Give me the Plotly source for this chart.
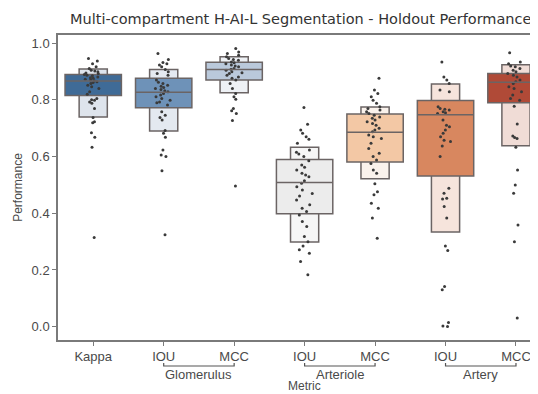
import plotly.graph_objects as go

# ---------------- data ----------------
metrics = ["Kappa", "IOU", "MCC", "IOU", "MCC", "IOU", "MCC"]
groups = ["Glomerulus", "Arteriole", "Artery"]

medians = [0.867, 0.827, 0.907, 0.509, 0.686, 0.748, 0.862]
q1 = [0.816, 0.772, 0.870, 0.398, 0.581, 0.532, 0.790]
q3 = [0.890, 0.876, 0.933, 0.590, 0.750, 0.798, 0.893]
lv_lo = [0.740, 0.690, 0.825, 0.299, 0.522, 0.334, 0.638]
lv_hi = [0.909, 0.907, 0.952, 0.633, 0.775, 0.856, 0.924]

kappa_pts = [0.946, 0.937, 0.928, 0.917, 0.911, 0.905, 0.902, 0.899, 0.895, 0.893,
             0.890, 0.887, 0.885, 0.881, 0.878, 0.876, 0.873, 0.870, 0.868, 0.864,
             0.861, 0.858, 0.852, 0.846, 0.840, 0.829, 0.820, 0.805, 0.801, 0.799,
             0.793, 0.788, 0.770, 0.738, 0.723, 0.719, 0.684, 0.668, 0.633, 0.315]
glom_iou_pts = [0.964, 0.943, 0.932, 0.928, 0.923, 0.917, 0.907, 0.899, 0.893, 0.887,
                0.870, 0.862, 0.858, 0.852, 0.848, 0.844, 0.840, 0.837, 0.832, 0.829,
                0.823, 0.817, 0.811, 0.805, 0.799, 0.793, 0.790, 0.782, 0.758, 0.746,
                0.738, 0.729, 0.692, 0.682, 0.668, 0.623, 0.606, 0.600, 0.550, 0.324]
glom_mcc_pts = [0.981, 0.969, 0.964, 0.958, 0.952, 0.946, 0.943, 0.940, 0.934, 0.931,
                0.928, 0.923, 0.920, 0.917, 0.911, 0.908, 0.905, 0.899, 0.896, 0.893,
                0.887, 0.881, 0.876, 0.870, 0.858, 0.840, 0.823, 0.811, 0.802, 0.770,
                0.762, 0.752, 0.727, 0.496]
arteriole_iou_pts = [0.773, 0.714, 0.694, 0.682, 0.670, 0.661, 0.647, 0.623, 0.615, 0.609,
                     0.600, 0.585, 0.570, 0.562, 0.553, 0.541, 0.535, 0.529, 0.515, 0.506,
                     0.494, 0.482, 0.470, 0.461, 0.447, 0.430, 0.418, 0.406, 0.394, 0.371,
                     0.353, 0.318, 0.300, 0.285, 0.271, 0.259, 0.230, 0.183]
arteriole_mcc_pts = [0.876, 0.835, 0.823, 0.811, 0.799, 0.788, 0.776, 0.770, 0.764, 0.758,
                     0.752, 0.746, 0.740, 0.735, 0.729, 0.723, 0.717, 0.711, 0.700, 0.694,
                     0.688, 0.676, 0.670, 0.664, 0.647, 0.629, 0.612, 0.600, 0.588, 0.576,
                     0.553, 0.541, 0.504, 0.476, 0.465, 0.435, 0.418, 0.383, 0.312]
artery_iou_pts = [0.934, 0.881, 0.870, 0.858, 0.835, 0.829, 0.776, 0.770, 0.767, 0.764,
                  0.758, 0.755, 0.752, 0.729, 0.711, 0.705, 0.694, 0.682, 0.670, 0.658,
                  0.653, 0.637, 0.600, 0.488, 0.471, 0.453, 0.450, 0.424, 0.383, 0.285,
                  0.269, 0.142, 0.130, 0.015, 0.002, 0.001]
artery_mcc_pts = [0.966, 0.934, 0.928, 0.920, 0.917, 0.911, 0.905, 0.899, 0.893, 0.887,
                  0.881, 0.870, 0.864, 0.858, 0.846, 0.840, 0.829, 0.817, 0.805, 0.799,
                  0.778, 0.715, 0.673, 0.667, 0.664, 0.633, 0.553, 0.500, 0.471, 0.359,
                  0.300, 0.031]
points = [kappa_pts, glom_iou_pts, glom_mcc_pts, arteriole_iou_pts,
          arteriole_mcc_pts, artery_iou_pts, artery_mcc_pts]

# ---------------- styles ----------------
dark_colors = ["#3f6b97", "#6e92b8", "#bac9db", "#ececec", "#f3c8a5", "#d8875f", "#b04a37"]
light_colors = ["#dee4ec", "#e4e9f0", "#eef1f5", "#f6f6f6", "#faf2ec", "#f6e4dc", "#f0dcd6"]
edge = "#6b6464"
frame = "#7a7a7a"
txt = "#4a4a4a"
FONT = "Liberation Sans, Arial, sans-serif"
TITLE_FONT = "DejaVu Sans, sans-serif"

pos = list(range(len(metrics)))
W_IN, W_OUT = 0.80, 0.40

# page body has an 8px margin; figure is laid out so that the visible window matches
W, H = 538, 394
ML, MT, MB = 50, 27, 62
PH = H - MT - MB  # plot height in px

fig = go.Figure()

# outer letter-value boxes
fig.add_trace(go.Bar(
    x=pos, y=[h - l for h, l in zip(lv_hi, lv_lo)], base=lv_lo, width=W_OUT,
    marker=dict(color=light_colors, line=dict(color=edge, width=1.5)),
    hoverinfo="skip", showlegend=False))
# inner (IQR) boxes
fig.add_trace(go.Bar(
    x=pos, y=[h - l for h, l in zip(q3, q1)], base=q1, width=W_IN,
    marker=dict(color=dark_colors, line=dict(color=edge, width=1.5)),
    hoverinfo="skip", showlegend=False))

# median lines
mx, my = [], []
for i, m in zip(pos, medians):
    mx += [i - W_IN / 2, i + W_IN / 2, None]
    my += [m, m, None]
fig.add_trace(go.Scatter(x=mx, y=my, mode="lines", line=dict(color=edge, width=1.5),
                         hoverinfo="skip", showlegend=False))

# jittered points
for i, pts in zip(pos, points):
    fig.add_trace(go.Box(
        x=[i] * len(pts), y=pts, boxpoints="all", jitter=1.0, pointpos=0, width=0.28,
        fillcolor="rgba(0,0,0,0)", line=dict(width=0, color="rgba(0,0,0,0)"),
        marker=dict(size=3, color="#3a3a3a"), showlegend=False))

# group brackets and labels
shapes = []
annotations = []
for g, name in enumerate(groups):
    a, b = 1 + 2 * g, 2 + 2 * g
    shapes.append(dict(type="path", xref="x", yref="paper",
                       path=f"M {a},{-23/PH} L {a},{-26/PH} L {b},{-26/PH} L {b},{-23/PH}",
                       line=dict(color="#555555", width=1.2)))
    annotations.append(dict(x=(a + b) / 2, y=-35 / PH, xref="x", yref="paper",
                            text=name, showarrow=False, yanchor="middle",
                            font=dict(family=FONT, size=13, color=txt)))
annotations.append(dict(x=3, y=-55 / PH, xref="x", yref="paper", text="Metric",
                        showarrow=False, yanchor="bottom",
                        font=dict(family=FONT, size=12, color=txt)))

fig.update_layout(
    width=W, height=H,
    margin=dict(l=ML, r=0, t=MT, b=MB, autoexpand=False),
    paper_bgcolor="white", plot_bgcolor="white",
    barmode="overlay", boxmode="overlay",
    title=dict(text="Multi-compartment H-AI-L Segmentation - Holdout Performance",
               x=62 / W, xanchor="left", xref="container",
               y=1 - 11 / H, yanchor="middle", yref="container", automargin=False,
               font=dict(family=TITLE_FONT, size=14.5, color="#333333")),
    font=dict(family=FONT, color=txt),
    shapes=shapes, annotations=annotations,
)
fig.update_xaxes(
    range=[-0.5, 6.426], tickmode="array", tickvals=pos, ticktext=metrics,
    showline=True, linecolor=frame, linewidth=1.5, mirror=True, automargin=False,
    ticks="outside", ticklen=4, tickcolor=frame, showgrid=False, zeroline=False,
    tickfont=dict(family=FONT, size=13, color=txt))
fig.update_yaxes(
    range=[-0.047, 1.029], tickmode="array", tickvals=[0, 0.2, 0.4, 0.6, 0.8, 1.0],
    tickformat=".1f", automargin=False,
    showline=True, linecolor=frame, linewidth=1.5, mirror=False,
    ticks="outside", ticklen=4, tickcolor=frame, showgrid=False, zeroline=False,
    tickfont=dict(family=FONT, size=13, color=txt),
    title=dict(text="Performance", standoff=6, font=dict(family=FONT, size=12, color=txt)))

fig.write_html("out.html")
